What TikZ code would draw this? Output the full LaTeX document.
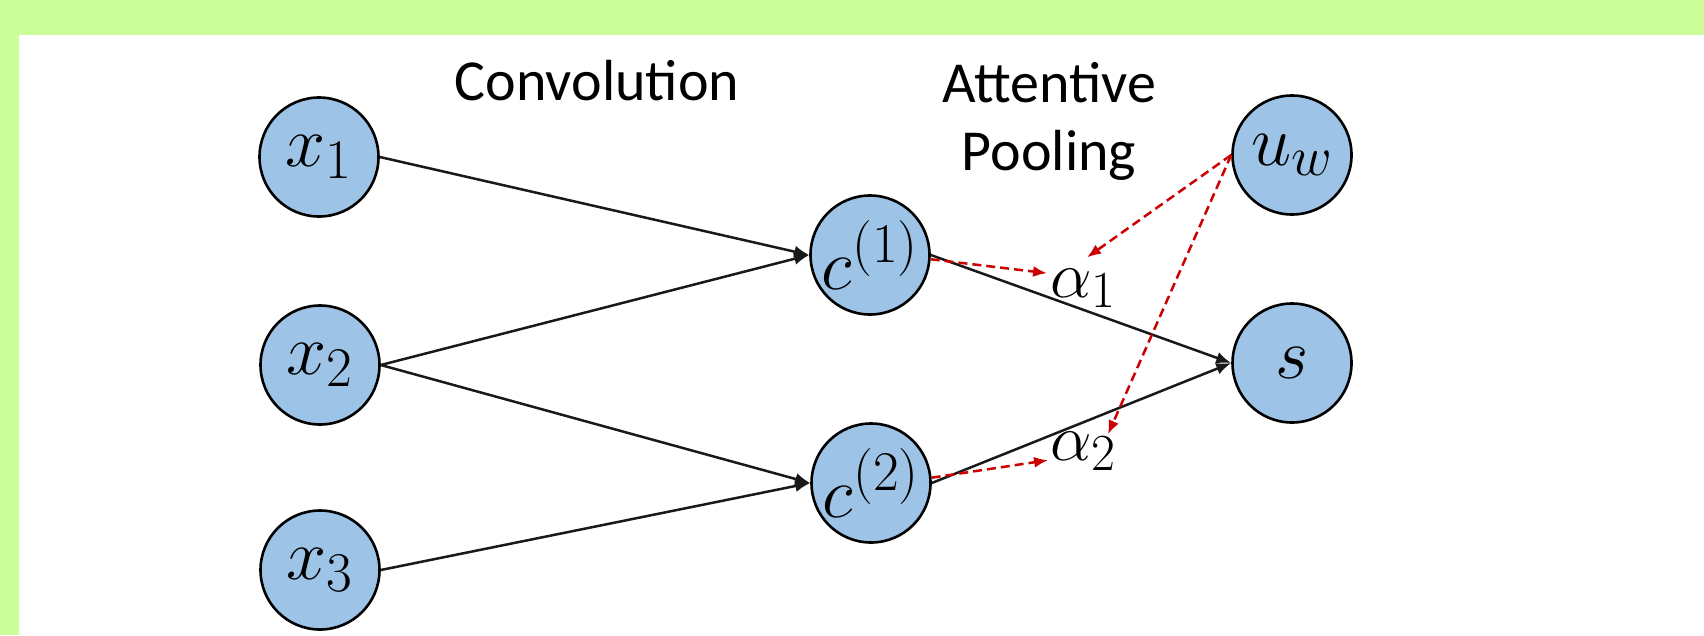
\RequirePackage{fix-cm}
\documentclass[tikz,border=0pt]{standalone}
\usepackage[no-math]{fontspec}
\setmainfont{Carlito}
\usetikzlibrary{arrows.meta}
\DeclareMathSizes{72}{72}{56}{44}
\DeclareMathSizes{66}{66}{52}{40}
\definecolor{bggreen}{HTML}{CCFF99}
\definecolor{nodeblue}{HTML}{9DC3E6}
\definecolor{attred}{HTML}{CC0000}
\begin{document}
\begin{tikzpicture}[x=1pt,y=-1pt,
  nd/.style={circle,draw=black,line width=2.6pt,fill=nodeblue,minimum size=119pt,inner sep=0pt,
    font=\fontsize{72}{80}\selectfont},
  lbl/.style={inner sep=0pt,font=\fontsize{58}{68}\selectfont,align=center},
  alph/.style={inner sep=0pt,font=\fontsize{66}{72}\selectfont},
  conn/.style={line width=2.5pt,draw=black!90,-{Latex[length=15pt,width=12pt]}},
  att/.style={line width=2.5pt,draw=attred,dash pattern=on 9pt off 5pt,-{Latex[length=14pt,width=11pt]}}]
\useasboundingbox (0,0) rectangle (1704,635);
\fill[bggreen] (0,0) rectangle (1704,635);
\fill[white] (19,35) rectangle (1704,635);
% nodes
\node[nd] (x1) at (319,157) {$x_1$};
\node[nd] (x2) at (320,365) {$x_2$};
\node[nd] (x3) at (320,570) {$x_3$};
\node[nd] (c1) at (870,255) {$c^{(1)}$};
\node[nd] (c2) at (871,483) {$c^{(2)}$};
\node[nd] (uw) at (1292,155) {$u_w$};
\node[nd] (s) at (1292,363) {$s$};
\node[alph,anchor=base] (a1) at (1083,297) {$\alpha_1$};
\node[alph,anchor=base] (a2) at (1083,460) {$\alpha_2$};
% labels
\node[lbl,anchor=base] (conv) at (597,100) {Convolution};
\node[lbl,anchor=base] (attp) at (1049,170) {Attentive\\Pooling};
% connectors
\draw[conn] (x1.east) -- (c1.west);
\draw[conn] (x2.east) -- (c1.west);
\draw[conn] (x2.east) -- (c2.west);
\draw[conn] (x3.east) -- (c2.west);
\draw[conn] (c1.east) -- (s.west);
\draw[conn] (c2.east) -- (s.west);
% attention
\draw[att] (c1.-4) -- ([xshift=-3pt,yshift=15pt]a1.west);
\draw[att] (c2.5) -- ([xshift=-2pt,yshift=-9pt]a2.west);
\draw[att] (uw.west) -- ([xshift=4pt,yshift=11pt]a1.north);
\draw[att] (uw.west) -- ([xshift=-8pt,yshift=-3pt]a2.north east);
\end{tikzpicture}
\end{document}
